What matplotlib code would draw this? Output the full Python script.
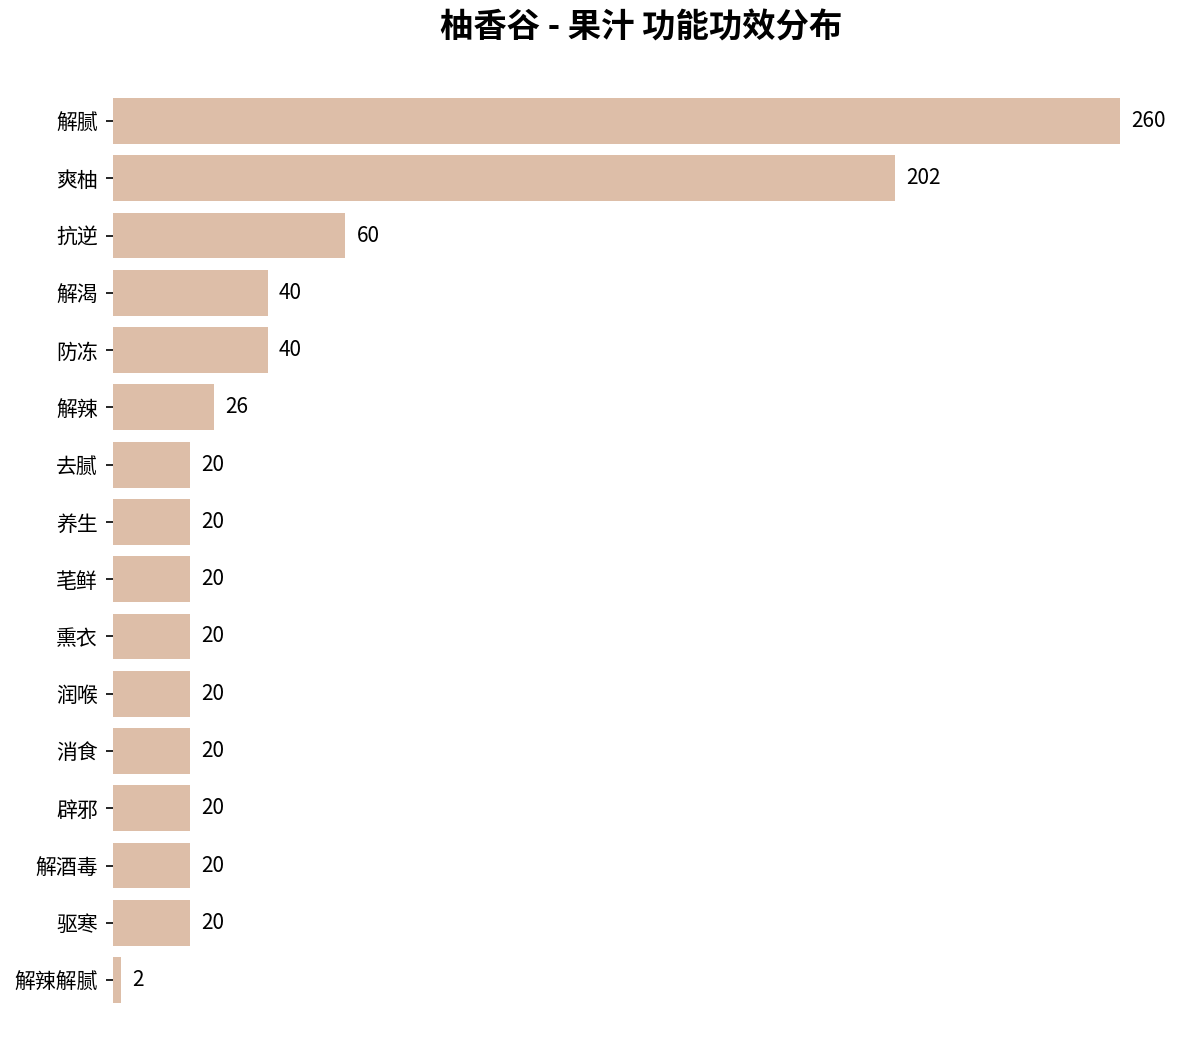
import matplotlib
matplotlib.use("Agg")
import matplotlib.pyplot as plt

plt.rcParams['font.family'] = ['Noto Sans CJK SC', 'DejaVu Sans']

categories = ["解腻", "爽柚", "抗逆", "解渴", "防冻", "解辣", "去腻", "养生",
              "芼鲜", "熏衣", "润喉", "消食", "辟邪", "解酒毒", "驱寒", "解辣解腻"]
values = [260, 202, 60, 40, 40, 26, 20, 20, 20, 20, 20, 20, 20, 20, 20, 2]
title = "柚香谷 - 果汁 功能功效分布"
bar_color = "#DDBEA8"

fig = plt.figure(figsize=(11.85, 10.63), dpi=100)
left, width = 0.0954, 0.892
ax = fig.add_axes([left, 0.0457, width, 0.8728])

y = list(range(len(categories)))
ax.barh(y, values, height=0.8, color=bar_color)
ax.set_yticks(y)
ax.set_yticklabels(categories, fontsize=15)
ax.set_ylim(len(categories) - 0.4, -0.6)
ax.set_xlim(0, max(values) * 1.05)
ax.set_xticks([])
for s in ax.spines.values():
    s.set_visible(False)
ax.tick_params(axis='y', length=5, width=1.2, pad=6)

for yi, v in zip(y, values):
    ax.annotate(str(v), xy=(v, yi), xytext=(8, 0), textcoords='offset points',
                va='center', ha='left', fontsize=15)

fig.text(left + width / 2, 1 - 28 / 1063, title, fontsize=24, fontweight='bold',
         ha='center', va='center')
fig.savefig("out.png", dpi=100)
